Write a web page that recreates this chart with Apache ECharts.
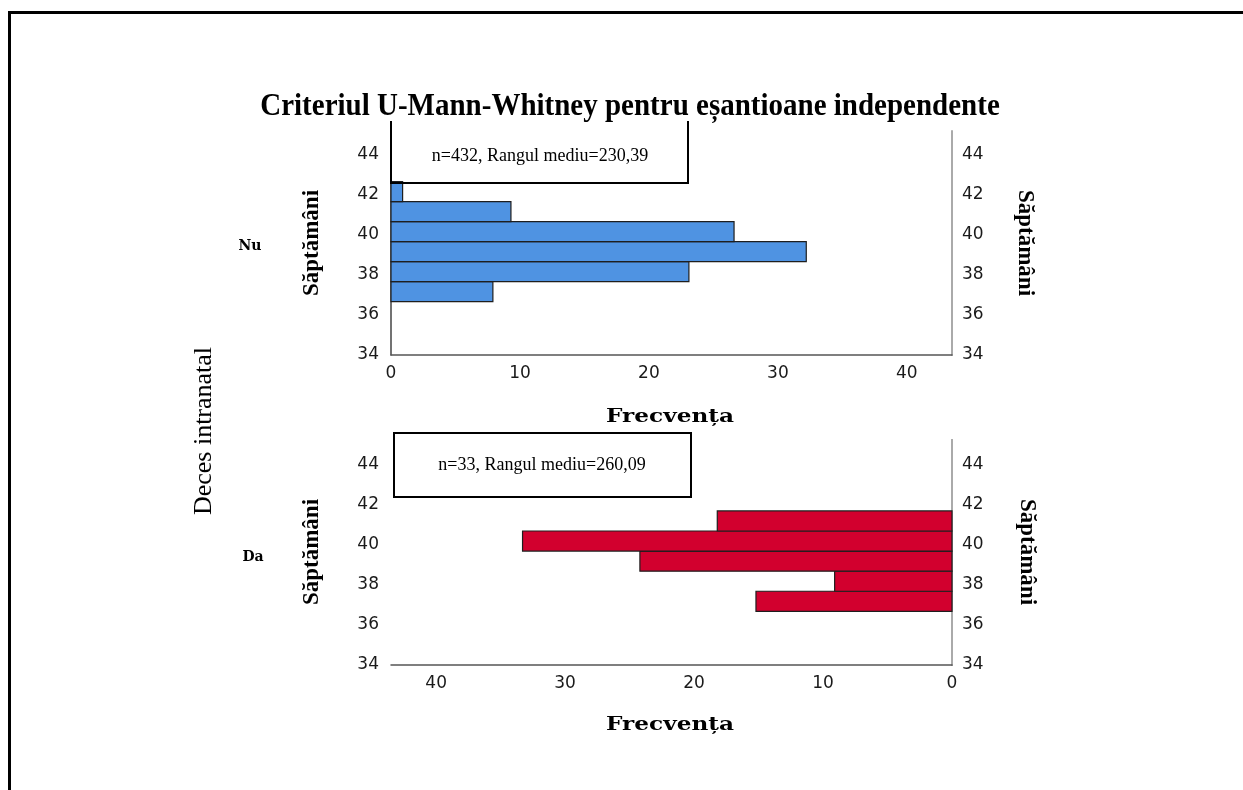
<!DOCTYPE html>
<html>
<head>
<meta charset="utf-8">
<script src="https://cdn.jsdelivr.net/npm/echarts@6/dist/echarts.min.js"></script>
<style>
  html, body { margin: 0; padding: 0; background: #fff; }
  #chart { width: 1243px; height: 790px; }
</style>
</head>
<body>
<div id="chart"></div>
<script>
// Gestational age bins (weeks) shared by both groups
const binEdges = [36.67, 37.67, 38.67, 39.67, 40.67, 41.67, 42.67];
// Percentage of cases per bin, lowest bin first
const nuPercent = [7.9, 23.1, 32.2, 26.6, 9.3, 0.9];
const daPercent = [15.2, 9.1, 24.2, 33.3, 18.2, 0];
// Group labels and summary text
const groups = ['Nu', 'Da'];
const groupStats = ['n=432, Rangul mediu=230,39', 'n=33, Rangul mediu=260,09'];

const titleText = 'Criteriul U-Mann-Whitney pentru eșantioane independente';
const yName = 'Săptămâni';
const xName = 'Frecvența';
const factorName = 'Deces intranatal';

function binData(values) {
  return values.map((v, i) => [binEdges[i], binEdges[i + 1], v]);
}

function renderBin(params, api) {
  const lo = api.value(0), hi = api.value(1), v = api.value(2);
  if (!v) return null;
  const a = api.coord([0, hi]);
  const b = api.coord([v, lo]);
  return {
    type: 'rect',
    shape: {
      x: Math.min(a[0], b[0]),
      y: a[1],
      width: Math.abs(b[0] - a[0]),
      height: b[1] - a[1]
    },
    style: { fill: api.visual('color'), stroke: '#1e1e1e', lineWidth: 1.2 }
  };
}

const tickFont = { fontFamily: 'DejaVu Sans', fontSize: 17, color: '#1a1a1a' };

function xAxisCfg(gridIndex, inverse) {
  return {
    type: 'value', gridIndex, inverse, min: 0, max: 43.5, interval: 10,
    axisLine: { show: true, lineStyle: { color: '#555', width: 1.5 } },
    axisTick: { show: false },
    splitLine: { show: false },
    axisLabel: Object.assign({ margin: 10, showMaxLabel: false }, tickFont)
  };
}

function yAxisCfg(gridIndex, position) {
  const right = position === 'right';
  return {
    type: 'value', gridIndex, position, min: 34, max: 45.2, interval: 2,
    axisLine: { show: true, lineStyle: { color: right ? '#aaa' : '#444', width: right ? 2 : 1.5 } },
    axisTick: { show: false },
    splitLine: { show: false },
    axisLabel: Object.assign({ margin: right ? 10 : 12, showMaxLabel: false }, tickFont)
  };
}

function label(text, x, y, font, opts) {
  return Object.assign({
    type: 'text', x, y, z: 10,
    style: { text, font, fill: '#000', align: 'center', verticalAlign: 'middle' }
  }, opts || {});
}

const serifBold = '"Liberation Serif", "Times New Roman", serif';

const chart = echarts.init(document.getElementById('chart'));
chart.setOption({
  animation: false,
  backgroundColor: '#fff',
  grid: [
    { left: 391, top: 131, width: 561, height: 224 },
    { left: 391, top: 440, width: 561, height: 225 }
  ],
  xAxis: [xAxisCfg(0, false), xAxisCfg(1, true)],
  yAxis: [yAxisCfg(0, 'left'), yAxisCfg(0, 'right'), yAxisCfg(1, 'left'), yAxisCfg(1, 'right')],
  series: [
    {
      name: groups[0], type: 'custom', xAxisIndex: 0, yAxisIndex: 0,
      itemStyle: { color: '#4f93e2' },
      encode: { x: 2, y: [0, 1] },
      renderItem: renderBin,
      data: binData(nuPercent)
    },
    {
      name: groups[1], type: 'custom', xAxisIndex: 1, yAxisIndex: 2,
      itemStyle: { color: '#d2002e' },
      encode: { x: 2, y: [0, 1] },
      renderItem: renderBin,
      data: binData(daPercent)
    }
  ],
  graphic: [
    // outer frame
    { type: 'rect', shape: { x: 9.5, y: 12.5, width: 1400, height: 1000 },
      style: { fill: null, stroke: '#000', lineWidth: 3 }, z: 1 },
    // summary boxes
    { type: 'polyline', shape: { points: [[391, 121], [391, 183], [688, 183], [688, 121]] },
      style: { fill: null, stroke: '#000', lineWidth: 2 }, z: 5 },
    { type: 'rect', shape: { x: 394, y: 433, width: 297, height: 64 },
      style: { fill: '#fff', stroke: '#000', lineWidth: 2 }, z: 5 },
    label(groupStats[0], 540, 156, '18px "Liberation Serif", serif'),
    label(groupStats[1], 542, 465, '18px "Liberation Serif", serif'),
    // title
    label(titleText, 630, 107, 'bold 29px ' + serifBold, { scaleY: 1.08 }),
    // axis titles
    label(xName, 670, 417, 'bold 19px "DejaVu Serif", serif', { scaleX: 1.22 }),
    label(xName, 670, 725, 'bold 19px "DejaVu Serif", serif', { scaleX: 1.22 }),
    label(yName, 312, 243, 'bold 23px ' + serifBold, { rotation: Math.PI / 2 }),
    label(yName, 1025, 243, 'bold 23px ' + serifBold, { rotation: -Math.PI / 2 }),
    label(yName, 312, 552, 'bold 23px ' + serifBold, { rotation: Math.PI / 2 }),
    label(yName, 1027, 552, 'bold 23px ' + serifBold, { rotation: -Math.PI / 2 }),
    // factor and group labels
    label(factorName, 204, 431, '26px ' + serifBold, { rotation: Math.PI / 2 }),
    label(groups[0], 250, 246, 'bold 14px "DejaVu Serif", serif'),
    label(groups[1], 253, 557, 'bold 14px "DejaVu Serif", serif')
  ]
});
</script>
</body>
</html>
